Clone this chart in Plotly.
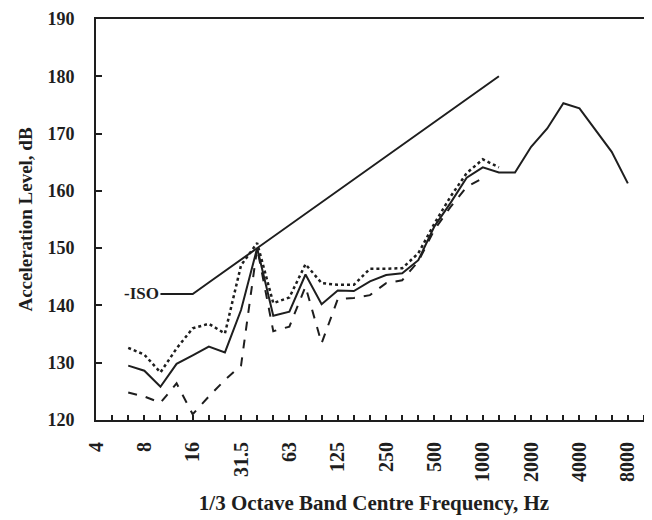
import plotly.graph_objects as go

bands = ["4", "5", "6.3", "8", "10", "12.5", "16", "20", "25", "31.5", "40", "50",
         "63", "80", "100", "125", "160", "200", "250", "315", "400", "500", "630",
         "800", "1000", "1250", "1600", "2000", "2500", "3150", "4000", "5000",
         "6300", "8000", "10000", "12500"]
octave_labels = ["4", "8", "16", "31.5", "63", "125", "250", "500", "1000", "2000", "4000", "8000"]

solid_bands = bands[2:34]
solid = [129.5, 128.6, 125.8, 129.8, 131.3, 132.8, 131.8, 139.2, 150.0, 138.2, 138.9,
         145.4, 140.2, 142.6, 142.5, 144.2, 145.3, 145.6, 147.9, 153.8, 157.9, 162.3,
         164.1, 163.2, 163.2, 167.7, 170.9, 175.3, 174.4, 170.6, 166.8, 161.3]

dotted_bands = bands[2:26]
dotted = [132.6, 131.4, 128.3, 132.5, 136.0, 136.8, 135.1, 147.0, 150.9, 140.4, 141.4,
          147.2, 143.9, 143.6, 143.6, 146.4, 146.4, 146.5, 149.1, 154.3, 159.0, 163.1,
          165.5, 164.1]

dashed_bands = bands[2:25]
dashed = [124.8, 124.1, 123.0, 126.4, 121.0, 124.1, 127.0, 129.5, 150.0, 135.5, 136.3,
          143.3, 133.4, 141.1, 141.3, 141.8, 143.9, 144.4, 147.7, 153.2, 157.2, 160.7,
          162.2]

iso_bands = bands[4:26]
iso = [142, 142, 142, 144, 146, 148, 150, 152, 154, 156, 158, 160, 162, 164, 166,
       168, 170, 172, 174, 176, 178, 180]
iso_label = "-ISO"

ink = "#1e1e1e"
font_family = "Liberation Serif"

fig = go.Figure()
fig.add_trace(go.Scatter(x=iso_bands, y=iso, mode="lines",
                         line=dict(color=ink, width=2), showlegend=False))
fig.add_trace(go.Scatter(x=dotted_bands, y=dotted, mode="lines",
                         line=dict(color=ink, width=2.5, dash="dot"), showlegend=False))
fig.add_trace(go.Scatter(x=dashed_bands, y=dashed, mode="lines",
                         line=dict(color=ink, width=2, dash="9px,9px"), showlegend=False))
fig.add_trace(go.Scatter(x=solid_bands, y=solid, mode="lines",
                         line=dict(color=ink, width=2), showlegend=False))

fig.add_annotation(x=bands.index(iso_bands[0]), y=iso[0], text=iso_label, showarrow=False,
                   xanchor="right", yanchor="middle", xshift=1,
                   font=dict(family=font_family, size=17, color=ink, weight="bold"))

# page body has an 8px margin, so the figure is sized to fit the 652x520 window
fig.update_layout(
    width=644, height=512,
    margin=dict(l=88, r=0, t=11, b=100),
    paper_bgcolor="white", plot_bgcolor="white",
    font=dict(family=font_family, size=17, color=ink, weight="bold"),
)
fig.update_xaxes(
    type="category", categoryorder="array", categoryarray=bands,
    range=[0, 34.5], automargin=False,
    tickmode="array", tickvals=bands,
    ticktext=[b if b in octave_labels else "" for b in bands],
    tickangle=-90, ticks="inside", ticklen=5, tickwidth=1.5, tickcolor=ink,
    ticklabelstandoff=12,
    showline=True, linecolor=ink, linewidth=2, mirror=True,
    showgrid=False, zeroline=False,
    tickfont=dict(family=font_family, size=20, color=ink, weight="bold"),
    title=dict(text="1/3 Octave Band Centre Frequency, Hz", standoff=14,
               font=dict(family=font_family, size=21, color=ink, weight="bold")),
)
fig.update_yaxes(
    range=[120, 190], automargin=False,
    tickmode="array", tickvals=[120, 130, 140, 150, 160, 170, 180, 190],
    ticks="inside", ticklen=6, tickwidth=1.5, tickcolor=ink,
    ticklabelstandoff=16,
    showline=True, linecolor=ink, linewidth=2,
    showgrid=False, zeroline=False,
    tickfont=dict(family=font_family, size=18, color=ink, weight="bold"),
    title=dict(text="Acceleration Level, dB", standoff=10,
               font=dict(family=font_family, size=19, color=ink, weight="bold")),
)

fig.write_html("out.html")
